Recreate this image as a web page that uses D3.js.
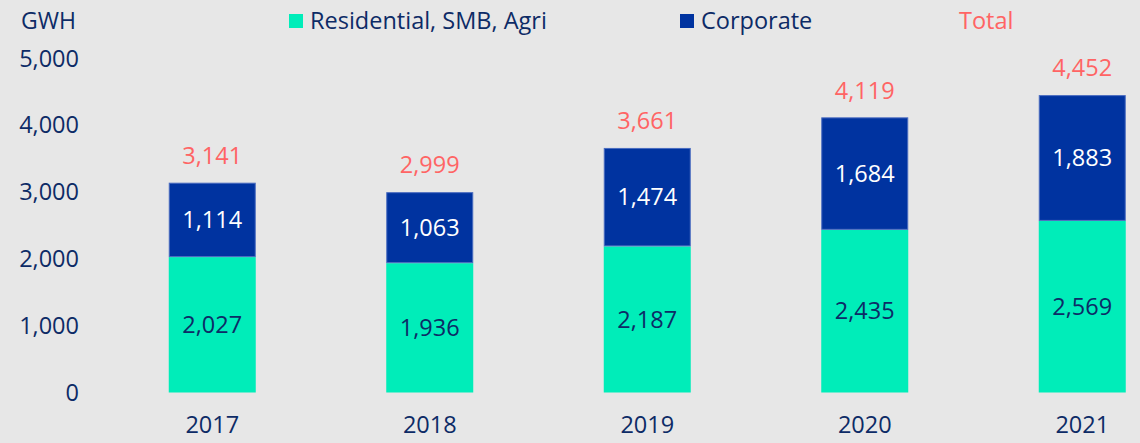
<!DOCTYPE html>
<html lang="en">
<head>
    <meta charset="UTF-8">
    <title>GWH by segment</title>
    <style>
        body { margin: 0; background: #e7e7e7; }
        svg { display: block; font-family: "Open Sans", sans-serif; }
    </style>
</head>
<body>
<svg id="chart" width="1140" height="443"></svg>

<script src="https://d3js.org/d3.v7.min.js"></script>
<script>
    // chart data
    const years = ["2017", "2018", "2019", "2020", "2021"];
    const residential = [2027, 1936, 2187, 2435, 2569];
    const corporate = [1114, 1063, 1474, 1684, 1883];
    const totals = [3141, 2999, 3661, 4119, 4452];
    const yTicks = [0, 1000, 2000, 3000, 4000, 5000];

    const navy = "#0d2b66";
    const green = "#00edb9";
    const blue = "#0033a0";
    const red = "#ff6464";
    const fmt = d3.format(",");

    const svg = d3.select("#chart");

    const x = d3.scaleBand()
        .domain(years)
        .range([103.5, 1191])
        .paddingInner(0.6)
        .paddingOuter(0.3);

    const y = d3.scaleLinear()
        .domain([0, 5000])
        .range([392.5, 58.5]);

    // y axis labels (no line, no ticks)
    const yAxis = svg.append("g")
        .attr("transform", "translate(79,0)")
        .call(d3.axisLeft(y).tickValues(yTicks).tickFormat(fmt).tickSize(0).tickPadding(0));
    yAxis.select(".domain").remove();
    yAxis.selectAll("text")
        .attr("font-family", "Open Sans")
        .attr("font-size", 23.5)
        .attr("fill", navy);

    svg.append("text")
        .attr("x", 21).attr("y", 21)
        .attr("dy", "0.35em")
        .attr("font-size", 23)
        .attr("fill", navy)
        .text("GWH");

    // x axis labels
    const xAxis = svg.append("g")
        .attr("transform", "translate(0,416)")
        .call(d3.axisBottom(x).tickSize(0).tickPadding(0));
    xAxis.select(".domain").remove();
    xAxis.selectAll("text")
        .attr("font-family", "Open Sans")
        .attr("font-size", 23.5)
        .attr("fill", navy);

    // stacked bars
    const rows = years.map((yr, i) => ({ year: yr, res: residential[i], corp: corporate[i], total: totals[i] }));

    const bars = svg.append("g").selectAll("g")
        .data(rows)
        .join("g");

    bars.append("rect")
        .attr("x", d => x(d.year))
        .attr("width", x.bandwidth())
        .attr("y", d => y(d.res))
        .attr("height", d => y(0) - y(d.res))
        .attr("fill", green);

    bars.append("rect")
        .attr("x", d => x(d.year) + 0.5)
        .attr("width", x.bandwidth() - 1)
        .attr("y", d => y(d.res + d.corp) + 0.5)
        .attr("height", d => y(d.res) - y(d.res + d.corp) - 1)
        .attr("fill", blue)
        .attr("stroke", "#4a6cc0")
        .attr("stroke-width", 1);

    bars.append("text")
        .attr("x", d => x(d.year) + x.bandwidth() / 2)
        .attr("y", d => (y(0) + y(d.res)) / 2)
        .attr("dy", "0.35em")
        .attr("text-anchor", "middle")
        .attr("font-size", 23.5)
        .attr("fill", navy)
        .text(d => fmt(d.res));

    bars.append("text")
        .attr("x", d => x(d.year) + x.bandwidth() / 2)
        .attr("y", d => (y(d.res) + y(d.res + d.corp)) / 2)
        .attr("dy", "0.35em")
        .attr("text-anchor", "middle")
        .attr("font-size", 23.5)
        .attr("fill", "#ffffff")
        .text(d => fmt(d.corp));

    bars.append("text")
        .attr("x", d => x(d.year) + x.bandwidth() / 2)
        .attr("y", d => y(d.total) - 27)
        .attr("dy", "0.35em")
        .attr("text-anchor", "middle")
        .attr("font-size", 23.5)
        .attr("fill", red)
        .text(d => fmt(d.total));

    // legend
    const legend = [
        { label: "Residential, SMB, Agri", color: green, x: 289, swatch: true, text: navy },
        { label: "Corporate", color: blue, x: 680, swatch: true, text: navy },
        { label: "Total", color: null, x: 959, swatch: false, text: red }
    ];
    const lg = svg.append("g").selectAll("g").data(legend).join("g")
        .attr("transform", d => `translate(${d.x},21)`);
    lg.filter(d => d.swatch).append("rect")
        .attr("x", 0).attr("y", -7)
        .attr("width", 14).attr("height", 14)
        .attr("fill", d => d.color);
    lg.append("text")
        .attr("x", d => d.swatch ? 21 : 0)
        .attr("dy", "0.35em")
        .attr("font-size", 23.5)
        .attr("fill", d => d.text)
        .text(d => d.label);
</script>
</body>
</html>
